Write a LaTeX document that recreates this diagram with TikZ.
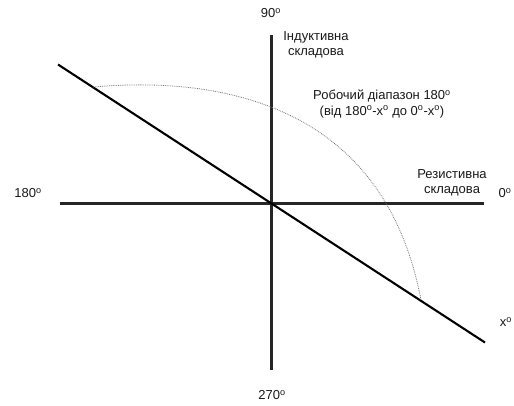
\documentclass[tikz,border=0pt]{standalone}
\usepackage{fontspec}
\setmainfont{Liberation Sans}
\usepackage{tikz}
\usetikzlibrary{positioning}
\newcommand{\degsym}{\textsuperscript{o}}
\tikzset{
  axis-line/.style={draw=black!85, line width=2.1pt},
  range-arc/.style={draw=black!55, line width=0.8pt, densely dotted},
  axis-label/.style={font=\fontsize{13}{15.5}\selectfont, inner sep=0pt, align=center, text=black!90}
}

\begin{document}
\begin{tikzpicture}[x=1pt, y=-1pt]
  \useasboundingbox (0,0) rectangle (514,405);
  \coordinate (O) at (271.5,203.5);
  \coordinate (west) at (60,203.5);
  \coordinate (east) at (484,203.5);
  \coordinate (north) at (271.5,35);
  \coordinate (south) at (271.5,370);
  \coordinate (diag-a) at (58,64.5);
  \coordinate (diag-b) at (485,342.5);
  \coordinate (arc-a) at (93,87);
  \coordinate (arc-b) at (421,300);
  \draw[axis-line] (west) -- (east);
  \draw[axis-line] (north) -- (south);
  \draw[axis-line, draw=black] (diag-a) -- (diag-b);
  \draw[range-arc] (arc-a) .. controls (230,75) and (385,110) .. (arc-b);
  \node[axis-label] (l90) at (271,13) {90\degsym};
  \node[axis-label] (l270) at (272,395) {270\degsym};
  \node[axis-label] (l180) at (28,193) {180\degsym};
  \node[axis-label] (l0) at (505,193) {0\degsym};
  \node[axis-label] (lx) at (506,322) {x\degsym};
  \node[axis-label] (ind) at (316,45) {Індуктивна\\[0pt]складова};
  \node[axis-label] (res) at (452,183) {Резистивна\\[0pt]складова};
  \node[axis-label] (range) at (382,104) {Робочий діапазон 180\degsym\\[0pt](від 180\degsym-x\degsym{} до 0\degsym-x\degsym)};
\end{tikzpicture}
\end{document}
